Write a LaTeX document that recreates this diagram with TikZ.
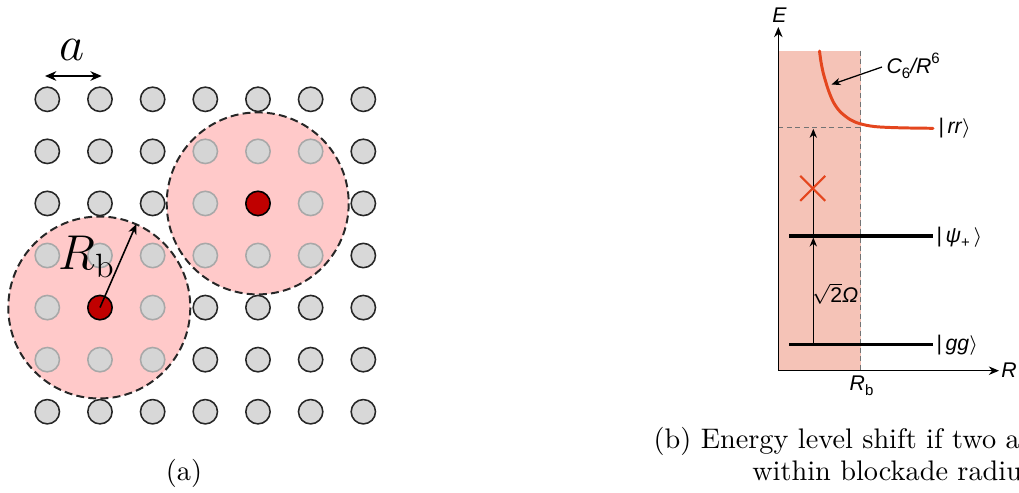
\documentclass[tikz,border=0pt]{standalone}
\usepackage{fontspec}
\newfontfamily\hv{Liberation Sans}
\usetikzlibrary{arrows.meta}
\definecolor{atomgray}{HTML}{D8D8D8}
\definecolor{atomin}{HTML}{D5D5D5}
\definecolor{atominedge}{HTML}{A8A8A8}
\definecolor{pinkdisc}{HTML}{FFC9C9}
\definecolor{darkred}{HTML}{C00000}
\definecolor{salmon}{HTML}{F5C3B7}
\definecolor{curveorange}{HTML}{E4461E}
\tikzset{
  atom/.style={circle,draw=black!85,fill=atomgray,line width=0.55pt,minimum size=8.6pt,inner sep=0pt},
  atomin/.style={circle,draw=atominedge,fill=atomin,line width=0.55pt,minimum size=8.6pt,inner sep=0pt},
  redatom/.style={circle,draw=black,fill=darkred,line width=0.55pt,minimum size=8.6pt,inner sep=0pt},
  blockade/.style={draw=black!85,dashed,dash pattern=on 2.8pt off 1.5pt,line width=0.7pt},
  dimarrow/.style={line width=0.6pt,{Stealth[length=4pt,width=3.4pt]}-{Stealth[length=4pt,width=3.4pt]}},
  radarrow/.style={line width=0.55pt,-{Stealth[length=3.6pt,width=3pt]}},
  axis/.style={line width=0.45pt,-{Stealth[length=3.6pt,width=3pt]}},
  levelline/.style={line width=1.1pt},
  transarrow/.style={line width=0.35pt,-{Stealth[length=3.2pt,width=2.6pt]}},
  guide/.style={draw=black!55,dashed,dash pattern=on 1.8pt off 1.2pt,line width=0.4pt},
  lab/.style={font=\hv\fontsize{7.5}{9}\selectfont,inner sep=0pt},
  captxt/.style={font=\fontsize{10}{12}\selectfont,inner sep=0pt}
}
\begin{document}
\begin{tikzpicture}[x=0.3534pt,y=-0.3534pt]
\useasboundingbox (0,0) rectangle (1019,492);

% ---------- panel (a) ----------
\fill[pinkdisc] (99.3,307.5) circle (91);
\fill[pinkdisc] (257.7,203.4) circle (91);

\foreach \i in {0,...,6}{
  \foreach \j in {0,...,6}{
    \pgfmathtruncatemacro\ins{or(((\i-1)^2+(\j-4)^2)<3, ((\i-4)^2+(\j-2)^2)<3)}
    \ifnum\ins=1
      \node[atomin] (n\i\j) at ({47.3+52.67*\i},{99.3+52.07*\j}) {};
    \else
      \node[atom] (n\i\j) at ({47.3+52.67*\i},{99.3+52.07*\j}) {};
    \fi
  }
}
\node[redatom] (c1) at (n14) {};
\node[redatom] (c2) at (n42) {};

\draw[blockade] (99.3,307.5) circle (91);
\draw[blockade] (257.7,203.4) circle (91);

\coordinate (aL) at (45,76);
\coordinate (aR) at (101.7,76);
\draw[dimarrow] (aL) -- (aR);
\node[font=\fontsize{17}{20}\selectfont,inner sep=0pt] (alab) at (72.5,50) {$a$};

\coordinate (rbend) at (136.4,224);
\draw[radarrow] (c1.center) -- (rbend);
\node[font=\fontsize{17}{20}\selectfont,inner sep=0pt] (rblab) at (87,257) {$R_{\mathrm{b}}$};

\node[captxt,anchor=base] (capa) at (184,480) {(a)};

% ---------- panel (b) ----------
\fill[salmon] (778.3,50.7) rectangle (860.7,370.7);
\coordinate (orig) at (778.3,370.7);
\coordinate (etop) at (778.3,27);
\coordinate (rend) at (999,370.7);
\coordinate (rbtop) at (860.7,50.7);
\coordinate (rbbot) at (860.7,370.7);
\coordinate (rrl) at (778.3,127.3);
\coordinate (rrr) at (860.7,127.3);
\draw[guide] (rbtop) -- (rbbot);
\draw[guide] (rrl) -- (rrr);
\draw[axis] (orig) -- (etop);
\draw[axis] (orig) -- (rend);

\draw[curveorange,line width=1.05pt,line cap=round] plot[smooth,tension=0.55] coordinates
  {(819.5,51) (821,62) (823.3,73.3) (825.8,82) (828.3,90) (833.3,102) (840,111.5) (850,119.5) (860,123.7) (875,126.6) (900,127.8) (933,128.3)};

\coordinate (gL) at (789.3,344.3);
\coordinate (gR) at (933.3,344.3);
\coordinate (pL) at (789.3,236);
\coordinate (pR) at (933.3,236);
\draw[levelline] (gL) -- (gR);
\draw[levelline] (pL) -- (pR);

\coordinate (t1a) at (813.3,343.5);
\coordinate (t1b) at (813.3,237.5);
\coordinate (t2a) at (813.3,235.5);
\coordinate (t2b) at (813.3,128.8);
\draw[transarrow] (t1a) -- (t1b);
\draw[transarrow] (t2a) -- (t2b);

\draw[curveorange,line width=0.75pt] (800.2,175.8) -- (825.2,200.8) (800.2,200.8) -- (825.2,175.8);

\node[lab,anchor=west] (c6) at (886,66) {\itshape C\raisebox{-0.45ex}{\fontsize{5.3}{6}\selectfont\upshape 6}/R\raisebox{0.85ex}{\fontsize{5.3}{6}\selectfont\upshape 6}};
\coordinate (c6tip) at (831.5,84.5);
\draw[transarrow,line width=0.45pt] (c6.west) ++(-4,1) -- (c6tip);

\node[lab,anchor=west] (rr) at (938,128.5) {|\,\itshape rr\upshape$\rangle$};
\node[lab,anchor=west] (psi) at (936,237) {|\,\itshape ψ\raisebox{-0.45ex}{\fontsize{5.3}{6}\selectfont\upshape +}\upshape\,$\rangle$};
\node[lab,anchor=west] (gg) at (936,345.5) {|\,\itshape gg\upshape$\rangle$};
\node[lab] (omega) at (835,293.5) {$\sqrt{\mbox{2}}$\itshape Ω};
\node[lab] (elab) at (779.5,15.5) {\itshape E};
\node[lab] (rlab) at (1009,370) {\itshape R};
\node[lab] (rblab2) at (861.5,386) {\itshape R\raisebox{-0.45ex}{\fontsize{5.3}{6}\selectfont\upshape b}};

\node[captxt,anchor=base west] (capb1) at (653,448.5) {(b) Energy level shift if two a};
\node[captxt,anchor=base west] (capb2) at (751.7,480) {within blockade radiu};
\end{tikzpicture}
\end{document}
